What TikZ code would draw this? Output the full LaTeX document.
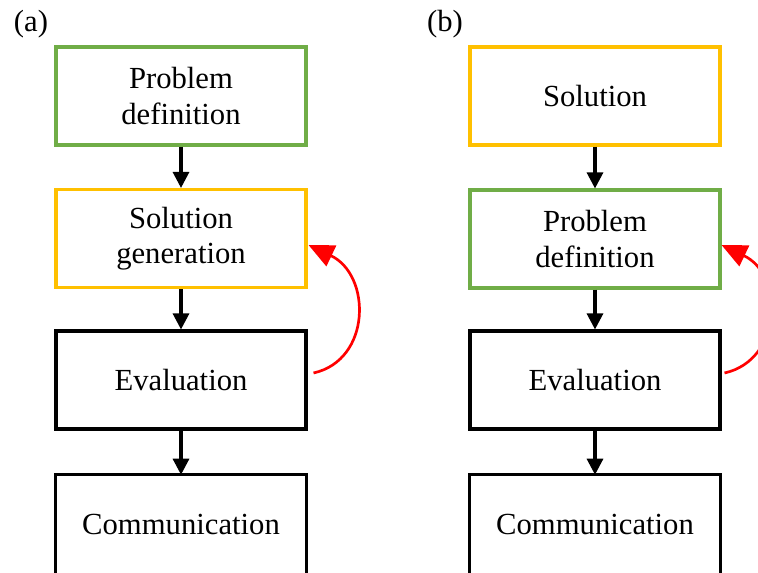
\documentclass[tikz,border=0pt]{standalone}
\usepackage{fontspec}
\setmainfont{Liberation Serif}
\usetikzlibrary{arrows.meta,calc}
\definecolor{stagegreen}{HTML}{70AD47}
\definecolor{stageyellow}{HTML}{FFC000}
\begin{document}
\begin{tikzpicture}[x=0.75pt,y=-0.75pt,
  stagebox/.style={draw, line width=2.3pt, minimum width=187.5pt, minimum height=73.5pt,
    align=center, inner sep=0pt, font=\fontsize{23}{26.5}\selectfont},
  openbox/.style={minimum width=187.5pt, minimum height=73.5pt,
    align=center, inner sep=0pt, font=\fontsize{23}{26.5}\selectfont},
  boxline/.style={line width=2.3pt},
  flow/.style={line width=2.3pt, -{Triangle[length=12pt,width=12pt]}},
  loopback/.style={red, line width=2pt, -{Triangle[length=19pt,width=17pt]}},
  panellabel/.style={font=\fontsize{23}{26.5}\selectfont, inner sep=0pt}]
\useasboundingbox (0,0) rectangle (758,573);
\clip (0,0) rectangle (758,573);

% panel (a)
\node[panellabel] (la) at (31,24) {(a)};
\node[stagebox, stagegreen]  (a1) at (181,96)   {\color{black}Problem\\\color{black}definition};
\node[stagebox, stageyellow] (a2) at (181,238.5) {\color{black}Solution\\\color{black}generation};
\node[stagebox]              (a3) at (181,380)  {Evaluation};
\node[openbox]               (a4) at (181,524)  {Communication};
% last box runs past the lower edge of the page
\draw[boxline] (a4.north west) rectangle ([yshift=-30pt]a4.south east);
\draw[flow] (a1) -- (a2);
\draw[flow] (a2) -- (a3);
\draw[flow] (a3) -- (a4);
\coordinate (as) at ([shift={(6,-7)}]a3.east);
\coordinate (ae) at ([shift={(1,6.5)}]a2.east);
\draw[loopback] (as) .. controls ($(as)+(58,-13)$) and ($(ae)+(63,30)$) .. (ae);

% panel (b)
\node[panellabel] (lb) at (445,24) {(b)};
\node[stagebox, stageyellow] (b1) at (595,96)  {\color{black}Solution};
\node[stagebox, stagegreen]  (b2) at (595,239) {\color{black}Problem\\\color{black}definition};
\node[stagebox]              (b3) at (595,380) {Evaluation};
\node[openbox]               (b4) at (595,524) {Communication};
\draw[boxline] (b4.north west) rectangle ([yshift=-30pt]b4.south east);
\draw[flow] (b1) -- (b2);
\draw[flow] (b2) -- (b3);
\draw[flow] (b3) -- (b4);
\coordinate (bs) at ([shift={(3,-7)}]b3.east);
\coordinate (be) at ([shift={(0,6)}]b2.east);
\draw[loopback] (bs) .. controls ($(bs)+(58,-13)$) and ($(be)+(63,30)$) .. (be);
\end{tikzpicture}
\end{document}
